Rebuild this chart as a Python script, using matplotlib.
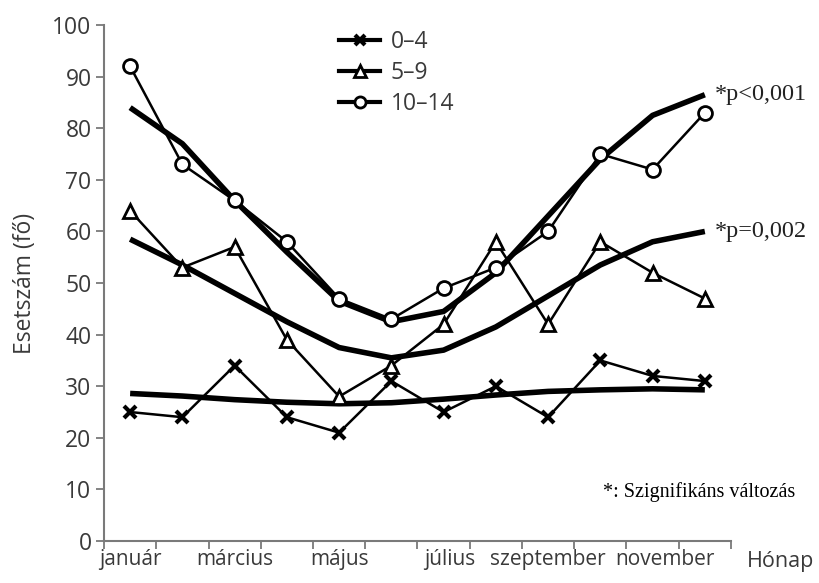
import matplotlib.pyplot as plt
import matplotlib.transforms as mtransforms
import numpy as np

months = ["január", "február", "március", "április", "május", "június",
          "július", "augusztus", "szeptember", "október", "november", "december"]
shown_labels = ["január", "március", "május", "július", "szeptember", "november"]

age_0_4 = [25, 24, 34, 24, 21, 31, 25, 30, 24, 35, 32, 31]
age_5_9 = [64, 53, 57, 39, 28, 34, 42, 58, 42, 58, 52, 47]
age_10_14 = [92, 73, 66, 58, 47, 43, 49, 53, 60, 75, 72, 83]

trend_0_4 = [28.6, 28.1, 27.4, 26.9, 26.6, 26.8, 27.5, 28.3, 29.0, 29.3, 29.5, 29.3]
trend_5_9 = [58.5, 53.5, 48.0, 42.5, 37.5, 35.5, 37.0, 41.5, 47.5, 53.5, 58.0, 60.0]
trend_10_14 = [84.0, 77.0, 66.0, 56.0, 46.5, 42.5, 44.5, 52.0, 63.0, 74.0, 82.5, 86.5]

plt.rcParams["font.family"] = ["Open Sans", "DejaVu Sans"]
text_color = "#3a3a3a"
axis_color = "#7a7a7a"
font_size = 16.5

fig = plt.figure(figsize=(8.19, 5.83), dpi=100)
ax = fig.add_axes([0.127, 0.072, 0.7655, 0.885])

x = np.arange(len(months))

# trend curves (thick)
for trend in (trend_0_4, trend_5_9, trend_10_14):
    ax.plot(x, trend, color="black", linewidth=4, solid_capstyle="butt", zorder=2)

# observed series
ax.plot(x, age_0_4, color="black", linewidth=1.8, marker="x", markersize=9,
        markeredgewidth=3, zorder=3, label="0\u20134")
ax.plot(x, age_5_9, color="black", linewidth=1.8, marker="^", markersize=10,
        markerfacecolor="white", markeredgewidth=2, zorder=3, label="5\u20139")
ax.plot(x, age_10_14, color="black", linewidth=1.8, marker="o", markersize=10,
        markerfacecolor="white", markeredgewidth=2, zorder=4, label="10\u201314")

ax.set_xlim(-0.5, 11.5)
ax.set_ylim(0, 100)
ax.set_yticks(range(0, 101, 10))

ax.set_xticks(np.arange(-0.5, 12, 1), minor=True)
ax.set_xticks([months.index(m) for m in shown_labels])
ax.set_xticklabels(shown_labels)
ax.tick_params(axis="x", which="major", length=0, pad=6, labelsize=15,
               labelcolor=text_color)
ax.tick_params(axis="x", which="minor", length=6, width=1.3, color=axis_color)
ax.tick_params(axis="y", length=6, width=1.3, color=axis_color, labelsize=font_size,
               labelcolor=text_color, pad=3)

# the original labels sit a little right of the month centre towards the end
nudges = {"július": 6, "november": 12}
for lbl in ax.get_xticklabels():
    dx = nudges.get(lbl.get_text(), 0)
    if dx:
        lbl.set_transform(lbl.get_transform() +
                          mtransforms.ScaledTranslation(dx / 100, 0, fig.dpi_scale_trans))

for side in ("top", "right"):
    ax.spines[side].set_visible(False)
for side in ("left", "bottom"):
    ax.spines[side].set_color(axis_color)
    ax.spines[side].set_linewidth(1.5)

ax.set_ylabel("Esetszám (fő)", fontsize=font_size, color=text_color, labelpad=11)

ax.text(12.45, -2.0, "Hónap", fontsize=15.5, color=text_color, ha="center",
        va="top", clip_on=False)

serif = ["Liberation Serif", "DejaVu Serif"]
ax.text(11.2, 86.5, "*p<0,001", family=serif, fontsize=17.5, color="#222222",
        va="center", ha="left")
ax.text(11.2, 60.0, "*p=0,002", family=serif, fontsize=17.5, color="#222222",
        va="center", ha="left")
ax.text(10.9, 9.5, "*: Szignifikáns változás", family=serif, fontsize=14.5,
        color="#000000", va="center", ha="center", clip_on=False)

leg = ax.legend(loc="upper left", bbox_to_anchor=(0.36, 1.008), frameon=False,
                fontsize=font_size, handlelength=1.8, handletextpad=0.45,
                labelspacing=0.3, borderaxespad=0, markerscale=0.8)
for line in leg.get_lines():
    line.set_linewidth(3)
for txt in leg.get_texts():
    txt.set_color(text_color)

fig.savefig("out.png", dpi=100)
